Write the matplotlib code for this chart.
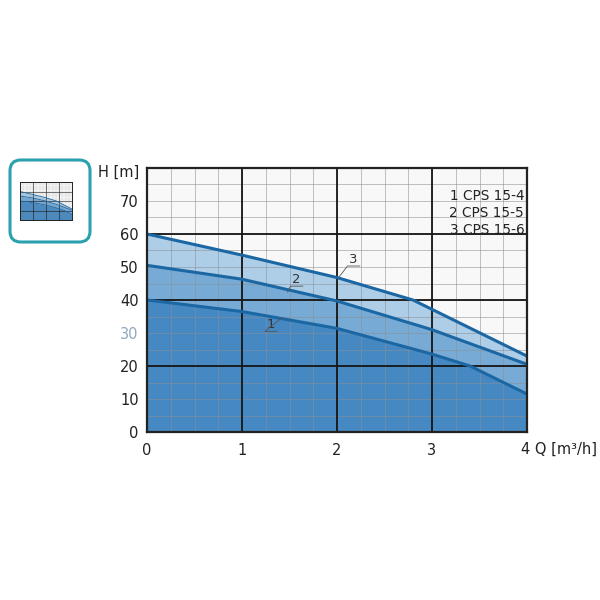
import matplotlib.pyplot as plt
from matplotlib.patches import FancyBboxPatch
import numpy as np

# Pump curves (Q in m3/h, H in m)
q1 = [0, 1, 2, 3, 3.4, 4]
h1 = [40, 36.5, 31.4, 23.6, 20, 11.5]
q2 = [0, 1, 2, 3, 4]
h2 = [50.5, 46.3, 39.7, 31, 20.5]
q3 = [0, 1, 2, 2.8, 4]
h3 = [60, 53.6, 46.8, 40, 23]
models = ["1 CPS 15-4", "2 CPS 15-5", "3 CPS 15-6"]
h_ticks = [0, 10, 20, 30, 40, 50, 60, 70]
q_ticks = [0, 1, 2, 3]

fill_cols = ["#4689c2", "#77aad4", "#aecde6"]
line_col = "#1b67a4"


def draw_chart(ax, lw=2.2, grid_lw=(1.3, 0.7)):
    qq = np.linspace(0, 4, 200)
    c1 = np.interp(qq, q1, h1)
    c2 = np.interp(qq, q2, h2)
    c3 = np.interp(qq, q3, h3)
    ax.set_facecolor("#f8f8f8")
    ax.fill_between(qq, c2, c3, color=fill_cols[2], lw=0, zorder=1)
    ax.fill_between(qq, c1, c2, color=fill_cols[1], lw=0, zorder=1)
    ax.fill_between(qq, 0, c1, color=fill_cols[0], lw=0, zorder=1)
    for q, h in [(q1, h1), (q2, h2), (q3, h3)]:
        ax.plot(q, h, color=line_col, lw=lw, zorder=4, solid_capstyle="butt")
    ax.set_xlim(0, 4)
    ax.set_ylim(0, 80)
    # thin grid
    for x in np.arange(0.25, 4, 0.25):
        ax.axvline(x, color="#8a8f96", lw=grid_lw[1], alpha=0.55, zorder=2)
    for y in np.arange(5, 80, 5):
        ax.axhline(y, color="#8a8f96", lw=grid_lw[1], alpha=0.55, zorder=2)
    # heavy grid
    for x in [1, 2, 3]:
        ax.axvline(x, color="#151515", lw=grid_lw[0], zorder=3)
    for y in [20, 40, 60]:
        ax.axhline(y, color="#151515", lw=grid_lw[0], zorder=3)
    for s in ax.spines.values():
        s.set_color("#222222")
        s.set_linewidth(grid_lw[0] + 0.3)
        s.set_zorder(5)


fig = plt.figure(figsize=(6, 6), dpi=100)
fig.patch.set_facecolor("white")

ax = fig.add_axes([147 / 600, 1 - 432 / 600, 380 / 600, 264 / 600])
draw_chart(ax)
ax.set_xticks(q_ticks)
ax.set_yticks(h_ticks)
ax.tick_params(length=0, labelsize=10.5, pad=8, colors="#222222")
ax.tick_params(axis="y", pad=6)
for lab in ax.get_yticklabels():
    if lab.get_text() == "30":
        lab.set_color("#8fa9c0")

ax.text(-0.02, 0.985, "H [m]", transform=ax.transAxes, ha="right", va="center",
        fontsize=10.5, color="#222222")
ax.text(0.985, -0.064, "4 Q [m³/h]", transform=ax.transAxes, ha="left", va="center",
        fontsize=10.5, color="#222222", clip_on=False)

for i, m in enumerate(models):
    ax.text(3.97, 71.5 - 5.1 * i, m, ha="right", va="center", fontsize=9.8,
            color="#222222", zorder=6)

# curve labels with leader lines
for num, (tx, ty), (lx, ly) in [("3", (2.17, 50.3), (2.02, 46.9)),
                                 ("2", (1.57, 44.2), (1.48, 42.4)),
                                 ("1", (1.3, 30.5), (1.42, 34.6))]:
    ax.text(tx, ty, num, fontsize=9.5, ha="center", va="bottom", color="#333333", zorder=6)
    ax.plot([lx, tx - 0.06, tx + 0.07], [ly, ty, ty], color="#555555", lw=0.6, zorder=6)

# thumbnail
box = FancyBboxPatch((10 / 600, 1 - 242 / 600), 80 / 600, 82 / 600,
                     boxstyle="round,pad=0,rounding_size=0.018",
                     transform=fig.transFigure, facecolor="white",
                     edgecolor="#2ba1b0", lw=2.2, zorder=-1)
fig.patches.append(box)
tax = fig.add_axes([20 / 600, 1 - 220 / 600, 52 / 600, 38 / 600])
draw_chart(tax, lw=0.6, grid_lw=(0.4, 0.2))
tax.set_xticks([])
tax.set_yticks([])

fig.savefig("out.png", dpi=100)
